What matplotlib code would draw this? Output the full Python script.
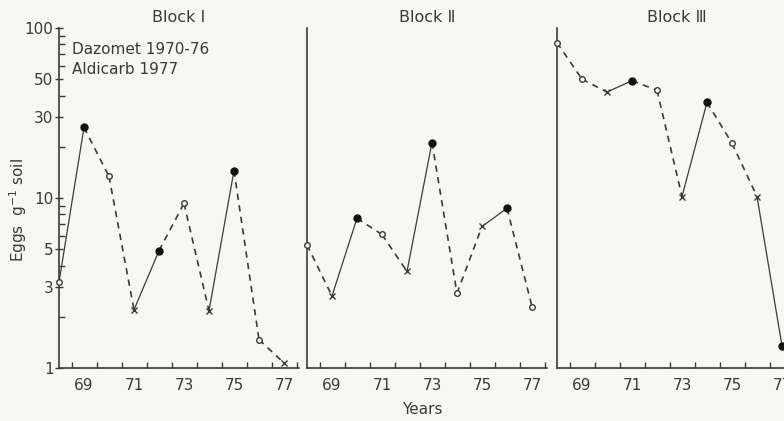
import numpy as np
import matplotlib.pyplot as plt

# years 1968-1977 (shown as 68..77)
years = [68, 69, 70, 71, 72, 73, 74, 75, 76, 77]

# eggs per g soil
block1 = [3.2, 26, 13.4, 2.2, 4.9, 9.3, 2.17, 14.5, 1.47, 1.07]
block2 = [5.3, 2.65, 7.6, 6.1, 3.7, 21.2, 2.75, 6.8, 8.7, 2.3]
block3 = [82, 50, 42, 49, 43, 10.2, 36.5, 21, 10.2, 1.35]

# symbol for each year: o open, x cross, f filled
marks1 = ['o', 'f', 'o', 'x', 'f', 'o', 'x', 'f', 'o', 'x']
marks2 = ['o', 'x', 'f', 'o', 'x', 'f', 'o', 'x', 'f', 'o']
marks3 = ['o', 'o', 'x', 'f', 'o', 'x', 'f', 'o', 'x', 'f']

titles = ['Block \u2160', 'Block \u2161', 'Block \u2162']
ytick_vals = [1, 3, 5, 10, 30, 50, 100]
xtick_vals = [69, 71, 73, 75, 77]

ink = '#3a3a3a'
paper = '#f6f6f2'
W, H = 784, 421

fig = plt.figure(figsize=(7.84, 4.21), dpi=100, facecolor=paper)

lefts = [59, 307, 557]
bottom = 53 / H
height = 340 / H
width = 240 / W

panels = [(block1, marks1), (block2, marks2), (block3, marks3)]
for i, (vals, marks) in enumerate(panels):
    ax = fig.add_axes([lefts[i] / W, bottom, width, height])
    ax.set_facecolor('none')
    ax.set_yscale('log')
    ax.set_ylim(1, 100)
    ax.set_xlim(68, 77.6)

    # segments: solid when leading to a filled point, dashed otherwise
    for j in range(len(years) - 1):
        if marks[j + 1] == 'f':
            ax.plot(years[j:j + 2], vals[j:j + 2], color=ink, lw=0.9, ls='-',
                    clip_on=False, zorder=2)
        else:
            ax.plot(years[j:j + 2], vals[j:j + 2], color=ink, lw=1.2, ls=(0, (3.8, 3.2)),
                    clip_on=False, zorder=2)
    for x, y, m in zip(years, vals, marks):
        if m == 'o':
            ax.plot(x, y, 'o', ms=4, mfc=paper, mec=ink, mew=1.0, clip_on=False, zorder=3)
        elif m == 'f':
            ax.plot(x, y, 'o', ms=5, mfc='#111', mec='#111', clip_on=False, zorder=3)
        else:
            ax.plot(x, y, 'x', ms=3.8, mec=ink, mew=1.0, clip_on=False, zorder=3)

    for s in ['top', 'right']:
        ax.spines[s].set_visible(False)
    for s in ['left', 'bottom']:
        ax.spines[s].set_color(ink)
        ax.spines[s].set_linewidth(1.2)

    ax.set_xticks(xtick_vals)
    ax.set_xticklabels([str(t) for t in xtick_vals])
    ax.set_xticks(np.arange(68.5, 78, 1), minor=True)
    ax.tick_params(axis='x', which='major', length=0, pad=7, labelsize=11, labelcolor=ink)
    ax.tick_params(axis='x', which='minor', direction='in', length=4, width=1, color=ink)

    if i == 0:
        ax.set_yticks(ytick_vals)
        ax.set_yticklabels([str(t) for t in ytick_vals])
        ax.tick_params(axis='y', which='major', direction='inout', length=6, width=1,
                       color=ink, pad=1, labelsize=11, labelcolor=ink)
        ax.tick_params(axis='y', which='minor', direction='in', length=4, width=1, color=ink)
        ax.yaxis.set_minor_formatter(plt.NullFormatter())
    else:
        ax.set_yticks([])
        ax.set_yticks([], minor=True)

    fig.text((lefts[i] + 120) / W, 1 - 18 / H, titles[i], ha='center', va='center',
             fontsize=11.5, color=ink)

fig.text(72 / W, 1 - 50 / H, 'Dazomet 1970-76', ha='left', va='center', fontsize=11, color=ink)
fig.text(72 / W, 1 - 70 / H, 'Aldicarb 1977', ha='left', va='center', fontsize=11, color=ink)
fig.text(18 / W, 1 - 210 / H, 'Eggs  g$^{-1}$ soil', rotation=90, ha='center', va='center',
         fontsize=11, color=ink)
fig.text(422 / W, 1 - 410 / H, 'Years', ha='center', va='center', fontsize=11, color=ink)

fig.savefig('out.png', dpi=100, facecolor=paper)
